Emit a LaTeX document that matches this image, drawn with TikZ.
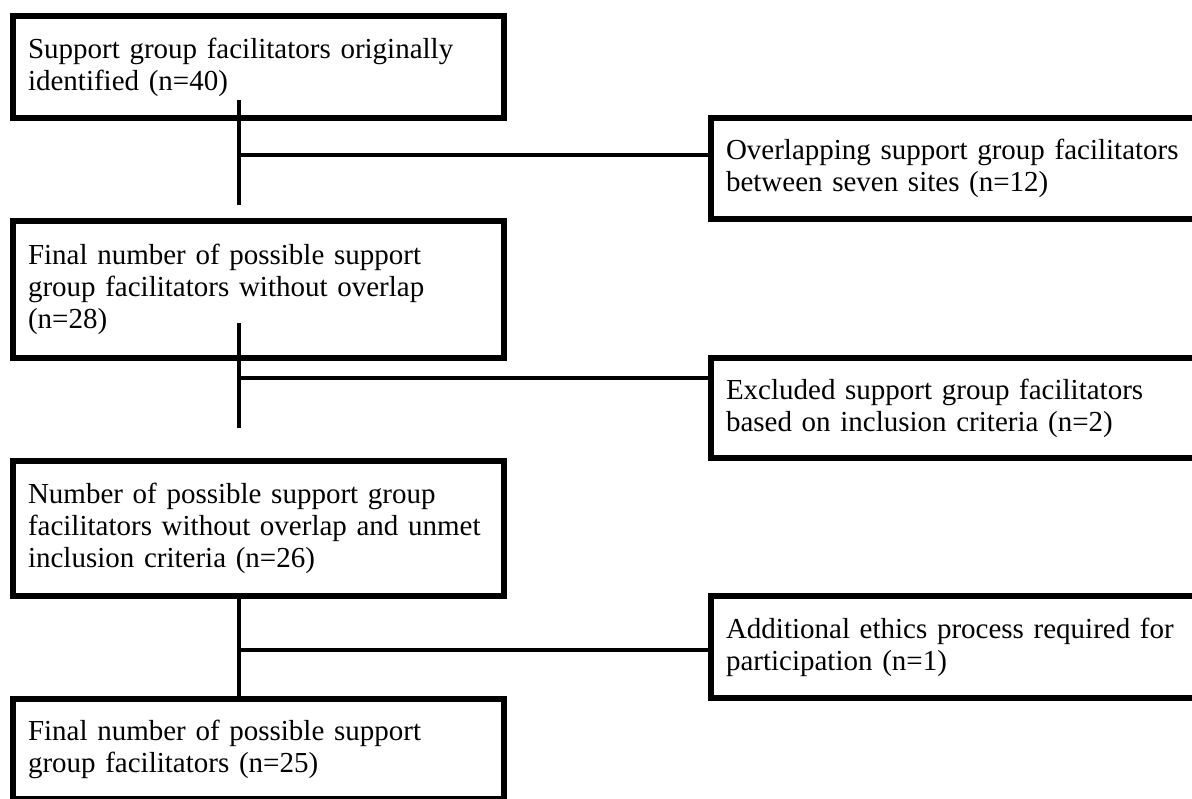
\documentclass[tikz,border=0pt]{standalone}
\usepackage{fontspec}
\setmainfont{Liberation Serif}
\usepackage{tikz}
\usetikzlibrary{positioning}
\tikzset{
  box/.style   = {draw, line width=3pt, outer sep=0pt, inner xsep=7.5pt, text width=230.5pt, align=left, font=\fontsize{14.5pt}{16pt}\selectfont},
  trunk/.style = {line width=2.2pt},
  side/.style  = {line width=1.6pt},
}

\begin{document}
\begin{tikzpicture}[node distance=51.5pt]
    \useasboundingbox (0,0) rectangle (596pt,-399pt);
    \node[box,minimum height=51pt,anchor=north west] (identified) at (6.5pt,-8pt) {Support group facilitators originally\\identified (n=40)};
    \node[box,minimum height=68.5pt,below=of identified] (nooverlap) {Final number of possible support\\group facilitators without overlap\\(n=28)};
    \node[box,minimum height=67.5pt,below=of nooverlap] (unmet) {Number of possible support group\\facilitators without overlap and unmet\\inclusion criteria (n=26)};
    \node[box,minimum height=50pt,below=of unmet] (final) {Final number of possible support\\group facilitators (n=25)};
    \node[box,minimum height=50.5pt,below right=0pt and 103.5pt of identified] (overlap) {Overlapping support group facilitators\\between seven sites (n=12)};
    \node[box,minimum height=50pt,below right=0pt and 103.5pt of nooverlap] (excluded) {Excluded support group facilitators\\based on inclusion criteria (n=2)};
    \node[box,minimum height=51pt,below right=0pt and 103.5pt of unmet] (ethics) {Additional ethics process required for\\participation (n=1)};

    \coordinate (t1) at ([xshift=-9.75pt,yshift=9pt]identified.south);
    \coordinate (b1) at ([xshift=-9.75pt,yshift=8pt]nooverlap.north);
    \coordinate (t2) at ([xshift=-9.75pt,yshift=17.5pt]nooverlap.south);
    \coordinate (b2) at ([xshift=-9.75pt,yshift=16.5pt]unmet.north);
    \coordinate (t3) at ([xshift=-9.75pt]unmet.south);
    \coordinate (b3) at ([xshift=-9.75pt]final.north);
    \coordinate (j1) at ([yshift=-27.5pt]t1);
    \coordinate (j2) at ([yshift=-27.5pt]t2);
    \coordinate (j3) at ([yshift=-27pt]t3);

    \draw[trunk] (t1) -- (b1);
    \draw[trunk] (t2) -- (b2);
    \draw[trunk] (t3) -- (b3);
    \draw[side] (j1) -- (j1 -| overlap.west);
    \draw[side] (j2) -- (j2 -| excluded.west);
    \draw[side] (j3) -- (j3 -| ethics.west);
  \end{tikzpicture}
\end{document}
